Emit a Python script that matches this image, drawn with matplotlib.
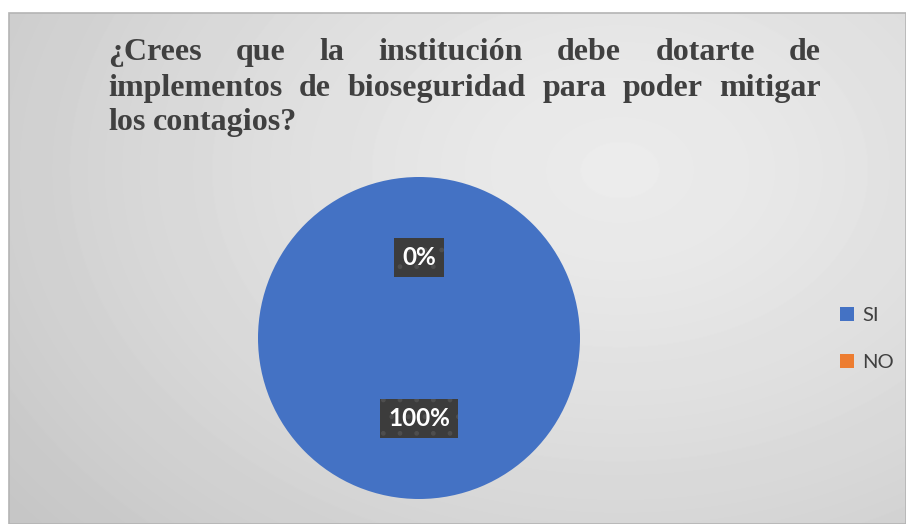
import numpy as np
import matplotlib.pyplot as plt
from matplotlib.patches import Rectangle

categories = ['SI', 'NO']
values = [100, 0]
pct_labels = ['100%', '0%']
title_lines = [
    '¿Crees que la institución debe dotarte de',
    'implementos de bioseguridad para poder mitigar',
    'los contagios?',
]
colors = ['#4472C4', '#ED7D31']

W, H = 906, 524
fig = plt.figure(figsize=(W / 100, H / 100), dpi=100)
fig.patch.set_facecolor('white')

# chart area background: soft radial gradient
bx0, by0, bx1, by1 = 9, 13, 906, 524
bg = fig.add_axes([bx0 / W, 1 - by1 / H, (bx1 - bx0) / W, (by1 - by0) / H])
gx, gy = np.meshgrid(np.arange(bx0, bx1), np.arange(by0, by1))
r = np.hypot((gx - 620) / 700, (gy - 170) / 500)
shade = 0.925 - 0.15 * (np.clip(r, 0, 1.1) / 1.1) ** 1.3
bg.imshow(shade, cmap='gray', vmin=0, vmax=1, aspect='auto', interpolation='bilinear')
bg.set_axis_off()
fig.add_artist(Rectangle((bx0 / W, 1 - by1 / H), (bx1 - bx0) / W, (by1 - by0) / H,
                         transform=fig.transFigure, fill=False, edgecolor='#b4b4b4', lw=1.2))

# pie
cx, cy, rad = 419, 338, 161
ax = fig.add_axes([(cx - rad) / W, 1 - (cy + rad) / H, 2 * rad / W, 2 * rad / H])
wedges, _ = ax.pie(values, colors=colors, startangle=90, counterclock=False,
                   wedgeprops=dict(linewidth=0))
ax.set_xlim(-1, 1)
ax.set_ylim(-1, 1)
ax.set_aspect('equal')

for w, lab in zip(wedges, pct_labels):
    ang = np.deg2rad((w.theta1 + w.theta2) / 2)
    ax.text(0.5 * np.cos(ang), 0.5 * np.sin(ang), lab, ha='center', va='center',
            color='white', fontsize=17.5, fontweight='bold', family='Lato',
            bbox=dict(boxstyle='square,pad=0.33', facecolor='#3c3c3c',
                      edgecolor='#4e4e4e', hatch='.', linewidth=0))

ax.legend(wedges, categories, loc='center left', bbox_to_anchor=(830 / W, 1 - 339 / H),
          bbox_transform=fig.transFigure, frameon=False, prop=dict(family='Lato', size=14.5),
          labelcolor='#404040', handlelength=0.7, handleheight=0.7,
          handletextpad=0.4, labelspacing=1.45, borderpad=0)

# justified title
fig.canvas.draw()
renderer = fig.canvas.get_renderer()
tx0, tx1 = 108, 821
baselines = [60, 96, 130]
tprops = dict(family='Liberation Serif', fontsize=23, fontweight='bold', color='#404040',
              va='baseline', ha='left')
for i, (line, yb) in enumerate(zip(title_lines, baselines)):
    words = line.split(' ')
    texts = [fig.text(0, 1 - yb / H, w_, **tprops) for w_ in words]
    widths = [t.get_window_extent(renderer).width for t in texts]
    if i < len(title_lines) - 1:
        gap = (tx1 - tx0 - sum(widths)) / (len(words) - 1)
    else:
        sp = fig.text(0, 0, 'a a', **tprops)
        sp2 = fig.text(0, 0, 'aa', **tprops)
        gap = sp.get_window_extent(renderer).width - sp2.get_window_extent(renderer).width
        sp.remove()
        sp2.remove()
    x = tx0
    for t, wd in zip(texts, widths):
        t.set_x(x / W)
        x += wd + gap

fig.savefig('out.png', dpi=100)
